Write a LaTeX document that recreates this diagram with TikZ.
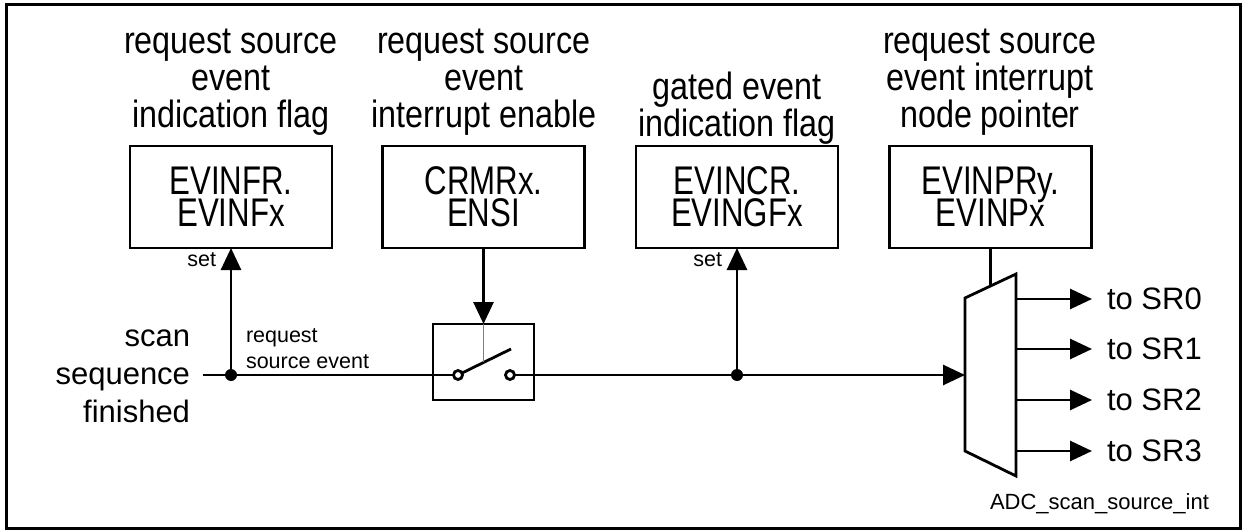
\documentclass[tikz,border=0pt]{standalone}
\usepackage{fontspec}
\setmainfont{Liberation Sans}
\newfontfamily\hdrfont[FakeStretch=0.85]{Liberation Sans}
\newfontfamily\regfont[FakeStretch=0.78]{Liberation Sans}
\usetikzlibrary{arrows.meta}
\lineskiplimit=-100pt
\begin{document}
\begin{tikzpicture}[x=1pt,y=-1pt,
  every node/.style={inner sep=0pt, outer sep=0pt},
  ln/.style={line width=2.8pt},
  arr/.style={ln, -{Triangle[length=22pt,width=20pt]}},
  regbox/.style={draw, ln, minimum width=202pt, minimum height=102pt, align=center, font=\regfont\fontsize{40}{32}\selectfont},
  hdr/.style={anchor=base, align=center, font=\hdrfont\fontsize{38}{37}\selectfont},
  dotnode/.style={circle, fill=black, minimum size=12pt},
  contact/.style={circle, draw, ln, fill=white, minimum size=9pt},
  outlbl/.style={anchor=west, outer xsep=15pt, font=\fontsize{31}{36}\selectfont},
  smalltext/.style={font=\fontsize{21.5}{26}\selectfont},
]
\useasboundingbox (0,0) rectangle (1242,532);
\draw[line width=3pt] (6,5) rectangle (1240,528);

% register boxes
\node[regbox] (b1) at (231,197) {EVINFR.\\EVINFx};
\node[regbox] (b2) at (483.5,197) {CRMRx.\\ENSI};
\node[regbox] (b3) at (737,197) {EVINCR.\\EVINGFx};
\node[regbox] (b4) at (990.5,197) {EVINPRy.\\EVINPx};

% headers (base anchor = last line)
\node[hdr] (h1) at (231,128) {request source\\event\\indication flag};
\node[hdr] (h2) at (484,128) {request source\\event\\interrupt enable};
\node[hdr] (h3) at (737,137) {gated event\\indication flag};
\node[hdr] (h4) at (990,128) {request source\\event interrupt\\node pointer};

% input label
\node[anchor=base east, align=right, font=\fontsize{31}{38}\selectfont] (scan) at (190,422) {scan\\sequence\\finished};
\node[smalltext, anchor=base west, align=left] (rse) at (246,368) {request\\source event};
\node[smalltext, anchor=base east] (set1) at (216,266) {set};
\node[smalltext, anchor=base east] (set3) at (722,266) {set};

% switch
\node[draw, ln, minimum width=101pt, minimum height=76pt] (sw) at (483.5,362) {};
\node[contact] (c1) at (458,375) {};
\node[contact] (c2) at (510,375) {};
\coordinate (lev) at (511,349);
\coordinate (levmid) at (483.5,362);
\draw[ln] (c1) -- (lev);
\draw[line width=1.5pt, gray] (sw.north) -- (levmid);

% dots
\coordinate (start) at (203,375);
\node[dotnode] (d1) at (231,375) {};
\node[dotnode] (d2) at (737,375) {};

% multiplexer
\coordinate (m1) at (965,298);
\coordinate (m2) at (1016,274);
\coordinate (m3) at (1016,476);
\coordinate (m4) at (965,451);
\coordinate (min) at (965,375);
\coordinate (mtop) at (990.5,286);
\draw[ln, line join=miter] (m1) -- (m2) -- (m3) -- (m4) -- cycle;

% main signal path
\draw[ln] (start) -- (d1) -- (c1);
\draw[arr] (c2) -- (d2) -- (min);
\draw[arr] (d1) -- (b1.south);
\draw[arr] (d2) -- (b3.south);
\draw[arr] (b2.south) -- (sw.north);
\draw[ln] (b4.south) -- (mtop);

% outputs
\coordinate (o0) at (1016,299);
\coordinate (o1) at (1016,349);
\coordinate (o2) at (1016,400);
\coordinate (o3) at (1016,451);
\node[outlbl] (t0) at (1092,299) {to SR0};
\node[outlbl] (t1) at (1092,349) {to SR1};
\node[outlbl] (t2) at (1092,400) {to SR2};
\node[outlbl] (t3) at (1092,451) {to SR3};
\draw[arr] (o0) -- (t0);
\draw[arr] (o1) -- (t1);
\draw[arr] (o2) -- (t2);
\draw[arr] (o3) -- (t3);

\node[font=\fontsize{22}{26}\selectfont, anchor=base west] (adc) at (990,509) {ADC\_scan\_source\_int};
\end{tikzpicture}
\end{document}
